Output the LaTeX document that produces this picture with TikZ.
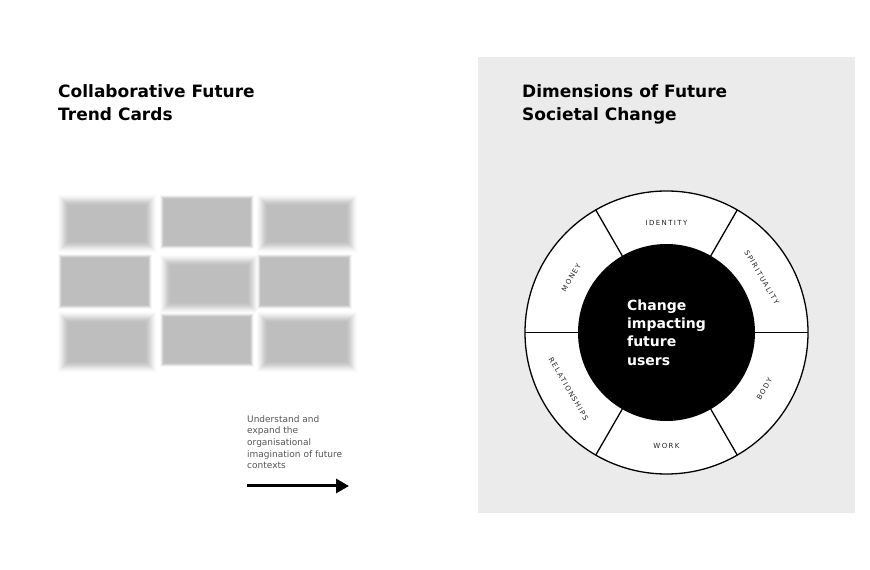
\documentclass[tikz,border=0pt]{standalone}
\usepackage{fontspec}
\setmainfont{DejaVu Sans}
\usetikzlibrary{arrows.meta,calc}
\definecolor{panelgray}{HTML}{EBEBEB}
\definecolor{cardgray}{HTML}{BEBEBE}
\definecolor{notegray}{HTML}{555555}
\definecolor{labelink}{HTML}{222222}
% #1 name, #2 x, #3 y of top edge, #4 width, #5 height, #6 blur radius (integer)
\newcommand\trendcard[6]{%
  \pgfmathtruncatemacro\tcnext{#6-1}%
  \foreach \d in {#6,\tcnext,...,-#6}{%
    \pgfmathsetmacro\tct{(#6-\d+1)/(2*#6+1)}%
    \pgfmathsetmacro\tcpct{100*\tct*\tct*(3-2*\tct)}%
    \pgfmathsetmacro\tcxa{#2-\d}%
    \pgfmathsetmacro\tcya{#3+\d}%
    \pgfmathsetmacro\tcxb{#2+#4+\d}%
    \pgfmathsetmacro\tcyb{#3-#5-\d}%
    \fill[cardgray!\tcpct!white] (\tcxa,\tcya) rectangle (\tcxb,\tcyb);
  }%
  \node[cardbox, minimum width=#4, minimum height=#5] (#1) at (#2,#3) {};%
}
\begin{document}
\begin{tikzpicture}[x=1pt,y=1pt,
  heading/.style={anchor=north west, inner sep=0pt, align=left,
    font=\fontsize{17}{23}\selectfont\bfseries},
  note/.style={anchor=north west, inner sep=0pt, align=left, text=notegray,
    font=\fontsize{9}{11.7}\selectfont},
  cardbox/.style={anchor=north west, inner sep=0pt, draw=none, fill=none},
  seg/.style={line width=1.3pt},
  lab/.style={inner sep=0pt, text=labelink,
    font=\fontsize{7}{8}\selectfont\addfontfeatures{LetterSpace=20}},
  arrowline/.style={line width=3pt, -{Triangle[length=13pt,width=14pt]}}
]
\useasboundingbox (0,0) rectangle (870,570);
\fill[white] (0,0) rectangle (870,570);

% right panel
\node[fill=panelgray, anchor=south west, minimum width=377, minimum height=456, inner sep=0pt] (panel) at (478,57) {};

% titles
\node[heading] (titleL) at (58,486) {Collaborative Future\\Trend Cards};
\node[heading] (titleR) at (522,486) {Dimensions of Future\\Societal Change};

% trend cards (blurred)
\trendcard{c1}{63}{370}{88}{47}{6}
\trendcard{c2}{162}{373}{90}{50}{2}
\trendcard{c3}{262}{370}{90}{47}{6}
\trendcard{c4}{60}{314}{90}{51}{2}
\trendcard{c5}{165}{310}{88}{48}{6}
\trendcard{c6}{259}{314}{91}{51}{2}
\trendcard{c7}{63}{253}{88}{50}{6}
\trendcard{c8}{162}{255}{90}{50}{2}
\trendcard{c9}{262}{253}{90}{50}{6}

% note and arrow
\node[note] (notetext) at (247,155) {Understand and\\expand the\\organisational\\imagination of future\\contexts};
\coordinate (a1) at (247,84);
\coordinate (a2) at (349,84);
\draw[arrowline] (a1) -- (a2);

% wheel
\node[circle, draw, line width=1.3pt, fill=white, minimum size=283, inner sep=0pt, outer sep=0pt] (ring) at (666.5,237.5) {};
\node[circle, fill=black, minimum size=177, inner sep=0pt, outer sep=0pt, text=white, align=left,
  font=\fontsize{14}{18.3}\selectfont\bfseries] (core) at (666.5,237.5) {Change\\impacting\\future\\users};
\foreach \a in {0,60,...,300} \draw[seg] (core.\a) -- (ring.\a);

\node[lab] (identity) at ($(ring.center)+(90:110)$) {IDENTITY};
\node[lab, rotate=-60] (spirituality) at ($(ring.center)+(30:110)$) {SPIRITUALITY};
\node[lab, rotate=60] (money) at ($(ring.center)+(150:110)$) {MONEY};
\node[lab, rotate=60] (body) at ($(ring.center)+(-30:113)$) {BODY};
\node[lab] (work) at ($(ring.center)+(270:113)$) {WORK};
\node[lab, rotate=-60] (relationships) at ($(ring.center)+(210:113)$) {RELATIONSHIPS};
\end{tikzpicture}
\end{document}
